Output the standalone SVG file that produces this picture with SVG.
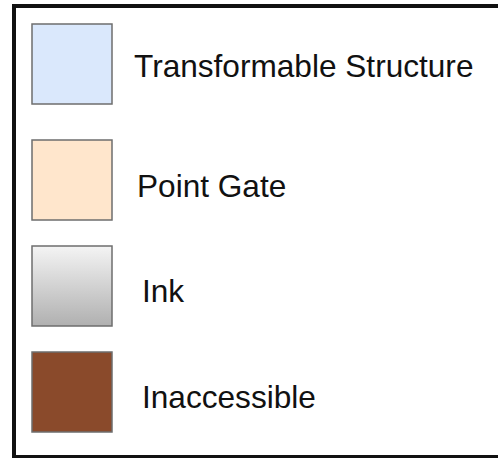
<svg xmlns="http://www.w3.org/2000/svg" width="498" height="458" viewBox="0 0 498 458">
  <style>
    .swatch { stroke: #6e6e6e; stroke-width: 1.5; }
    .label { font-family: "Liberation Sans", Arial, sans-serif; font-size: 31.6px; fill: #111111; }
  </style>
  <defs>
    <linearGradient id="inkGrad" x1="0" y1="0" x2="0" y2="1">
      <stop offset="0" stop-color="#f4f4f4"/>
      <stop offset="1" stop-color="#b0b0b0"/>
    </linearGradient>
  </defs>
  <rect width="498" height="458" fill="#ffffff"/>
  <!-- legend frame -->
  <rect id="frame" x="14" y="6" width="500" height="451" fill="none" stroke="#111111" stroke-width="4"/>

  <g id="transformable-structure">
    <rect class="swatch" x="32" y="24" width="80" height="80" fill="#dae8fc"/>
    <text class="label" x="134" y="77">Transformable Structure</text>
  </g>
  <g id="point-gate">
    <rect class="swatch" x="32" y="140" width="80" height="80" fill="#ffe6cc"/>
    <text class="label" x="137" y="197">Point Gate</text>
  </g>
  <g id="ink">
    <rect class="swatch" x="32" y="246" width="80" height="80" fill="url(#inkGrad)"/>
    <text class="label" x="142" y="302">Ink</text>
  </g>
  <g id="inaccessible">
    <rect class="swatch" x="32" y="352" width="80" height="80" fill="#8a4a2b" stroke="#555555"/>
    <text class="label" x="142" y="408">Inaccessible</text>
  </g>
  <g id="connectors"/>
</svg>
